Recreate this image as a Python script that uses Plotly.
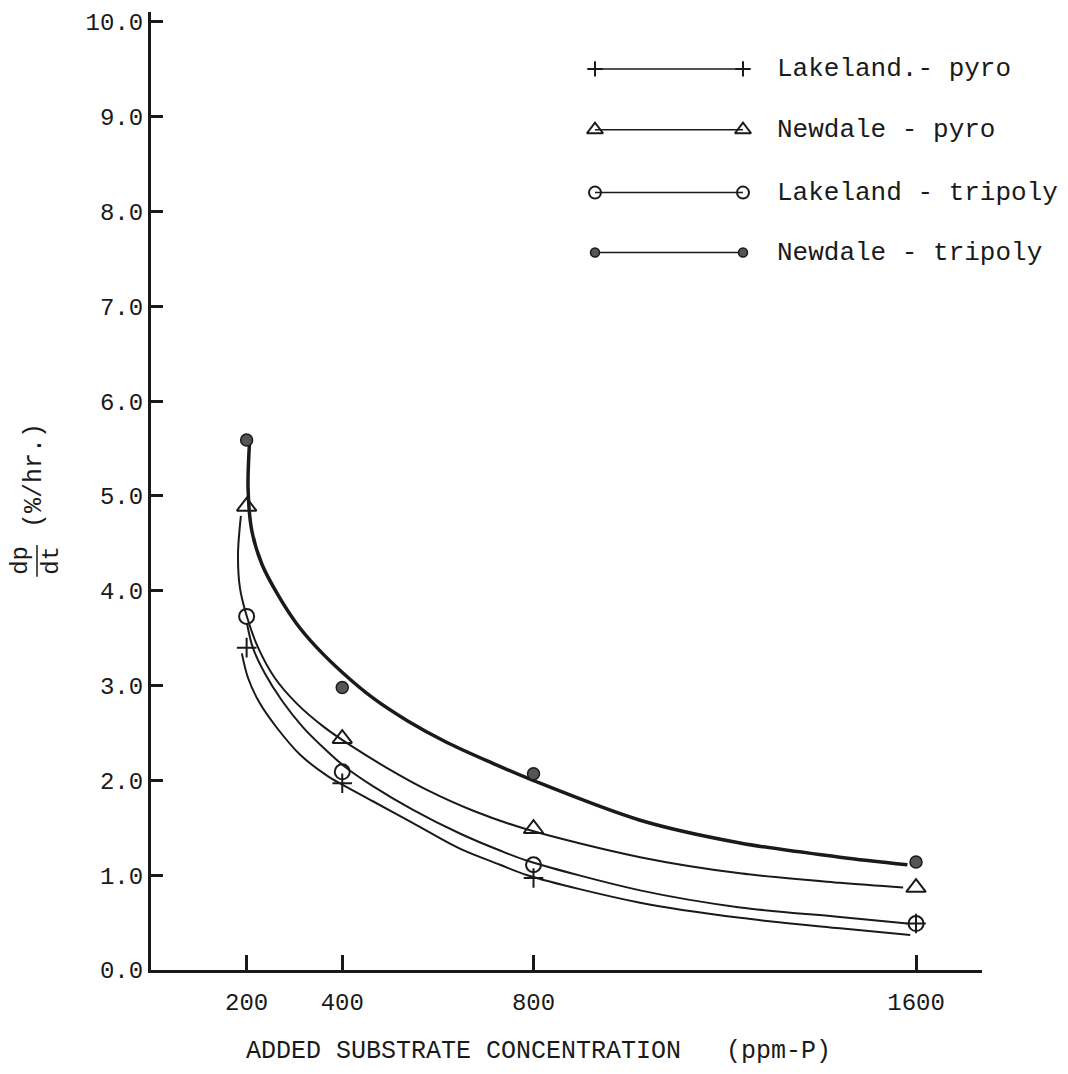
import plotly.graph_objects as go

# ---------------- data ----------------
conc = [200, 400, 800, 1600]

lakeland_pyro = [3.40, 1.97, 0.97, 0.49]
newdale_pyro = [4.89, 2.44, 1.49, 0.87]
lakeland_tripoly = [3.73, 2.09, 1.11, 0.49]
newdale_tripoly = [5.59, 2.98, 2.07, 1.14]

# hand-drawn fitted curves
nt_curve_x = [206, 203, 211, 232, 264, 305, 347, 402, 464, 536, 619, 715, 799, 1023, 1232, 1441, 1582]
nt_curve_y = [5.56, 5.08, 4.63, 4.28, 3.97, 3.65, 3.40, 3.13, 2.87, 2.63, 2.40, 2.18, 2.00, 1.58, 1.34, 1.19, 1.11]

np_curve_x = [188, 182, 186, 201, 224, 259, 305, 360, 423, 494, 577, 674, 782, 1023, 1232, 1441, 1573]
np_curve_y = [4.79, 4.39, 4.03, 3.72, 3.40, 3.08, 2.81, 2.57, 2.35, 2.13, 1.90, 1.68, 1.49, 1.19, 1.02, 0.92, 0.87]

lt_curve_x = [201, 213, 238, 274, 318, 368, 404, 464, 548, 646, 730, 789, 1023, 1232, 1441, 1582]
lt_curve_y = [3.65, 3.40, 3.13, 2.84, 2.56, 2.31, 2.15, 1.94, 1.69, 1.44, 1.26, 1.15, 0.84, 0.66, 0.56, 0.49]

lp_curve_x = [190, 203, 228, 264, 312, 368, 402, 464, 548, 646, 730, 787, 1023, 1232, 1441, 1588]
lp_curve_y = [3.34, 3.08, 2.81, 2.55, 2.27, 2.05, 1.95, 1.78, 1.55, 1.28, 1.11, 1.00, 0.71, 0.55, 0.44, 0.37]

x_ticks = [200, 400, 800, 1600]
x_ticktext = ["200", "400", "800", "1600"]
y_ticks = [0, 1, 2, 3, 4, 5, 6, 7, 8, 9, 10]
y_ticktext = ["0.0", "1.0", "2.0", "3.0", "4.0", "5.0", "6.0", "7.0", "8.0", "9.0", "10.0"]

legend_names = ["Lakeland.- pyro", "Newdale - pyro", "Lakeland - tripoly", "Newdale - tripoly"]

# ---------------- styling ----------------
FONT = "Liberation Mono, Courier New, monospace"
INK = "#1a1a1a"
W, H = 1068, 1074
L, R, T, B = 151, 86, 10, 104
PW, PH = W - L - R, H - T - B

fig = go.Figure()

def curve(xs, ys, width):
    fig.add_trace(go.Scatter(x=xs, y=ys, mode="lines",
                             line=dict(color=INK, width=width, shape="spline", smoothing=0.9),
                             showlegend=False, hoverinfo="skip"))

curve(lp_curve_x, lp_curve_y, 2)
curve(lt_curve_x, lt_curve_y, 2)
curve(np_curve_x, np_curve_y, 2)
curve(nt_curve_x, nt_curve_y, 3.5)

styles = [
    dict(symbol="cross-thin", size=14, color=INK, line=dict(color=INK, width=2)),
    dict(symbol="triangle-up-open", size=17, color=INK, line=dict(color=INK, width=2)),
    dict(symbol="circle-open", size=15, color=INK, line=dict(color=INK, width=2)),
    dict(symbol="circle", size=12, color="#555555", line=dict(color=INK, width=1.5)),
]
series = [lakeland_pyro, newdale_pyro, lakeland_tripoly, newdale_tripoly]
for name, vals, st in zip(legend_names, series, styles):
    fig.add_trace(go.Scatter(x=conc, y=vals, mode="markers", marker=st, name=name, showlegend=False))

# custom legend drawn on a hidden pixel-scaled overlay axis
leg_rows = [67, 128, 191, 251]
for name, st, yy in zip(legend_names, styles, leg_rows):
    fig.add_trace(go.Scatter(x=[595, 743], y=[yy, yy], xaxis="x2", yaxis="y2", mode="lines+markers",
                             marker=dict(st, size=st["size"] - 3), line=dict(color=INK, width=1.5),
                             showlegend=False, hoverinfo="skip"))
    fig.add_annotation(x=775, y=yy, xref="x2", yref="y2", text=name, showarrow=False, xanchor="left",
                       yanchor="middle", font=dict(family=FONT, size=26, color=INK))

fig.update_layout(
    width=W, height=H, margin=dict(l=L, r=R, t=T, b=B),
    paper_bgcolor="white", plot_bgcolor="white", showlegend=False,
    xaxis=dict(range=[0, 1738], showline=True, linecolor=INK, linewidth=3, showgrid=False, zeroline=False,
               tickmode="array", tickvals=x_ticks, ticktext=x_ticktext, ticks="inside", ticklen=15,
               tickwidth=3, tickcolor=INK, ticklabelstandoff=8,
               tickfont=dict(family=FONT, size=24, color=INK)),
    yaxis=dict(range=[0, 10.105], showline=True, linecolor=INK, linewidth=3, showgrid=False, zeroline=False,
               tickmode="array", tickvals=y_ticks, ticktext=y_ticktext, ticks="inside", ticklen=12,
               tickwidth=3, tickcolor=INK, ticklabelstandoff=0,
               tickfont=dict(family=FONT, size=24, color=INK)),
    xaxis2=dict(range=[L, W - R], overlaying="x", anchor="y2", visible=False, fixedrange=True),
    yaxis2=dict(range=[H - B, T], overlaying="y", anchor="x2", visible=False, fixedrange=True),
)

def px_x(p):
    return (p - L) / PW

def px_y(p):
    return (H - B - p) / PH

# x-axis title
fig.add_annotation(x=px_x(538), y=px_y(1052), xref="paper", yref="paper", showarrow=False,
                   xanchor="center", yanchor="middle",
                   text="ADDED SUBSTRATE CONCENTRATION\u00a0\u00a0\u00a0(ppm-P)",
                   font=dict(family=FONT, size=25, color=INK))
# y-axis title: dp/dt (%/hr.)
fig.add_annotation(x=px_x(34), y=px_y(475), xref="paper", yref="paper", showarrow=False, textangle=-90,
                   xanchor="center", yanchor="middle",
                   text="(%/hr.)", font=dict(family=FONT, size=25, color=INK))
fig.add_annotation(x=px_x(36), y=px_y(560), xref="paper", yref="paper", showarrow=False, textangle=-90,
                   xanchor="center", yanchor="middle",
                   text="dp<br>dt", font=dict(family=FONT, size=24, color=INK))
fig.add_shape(type="line", xref="paper", yref="paper", x0=px_x(37), x1=px_x(37), y0=px_y(544), y1=px_y(576),
              line=dict(color=INK, width=1.5))

fig.write_html("out.html")
